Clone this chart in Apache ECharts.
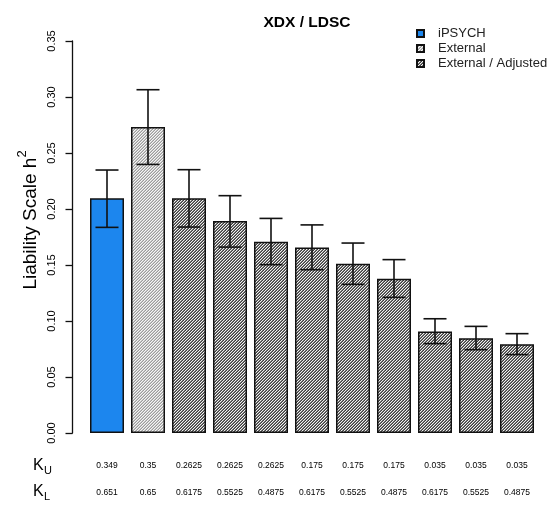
<!DOCTYPE html>
<html>
<head>
<meta charset="utf-8">
<script src="https://cdn.jsdelivr.net/npm/echarts@6/dist/echarts.min.js"></script>
<style>
html,body{margin:0;padding:0;background:#fff;}
#chart{width:548px;height:508px;}
</style>
</head>
<body>
<div id="chart"></div>
<script>
// ---- data ----
var categories = ['1','2','3','4','5','6','7','8','9','10','11'];
var groups = ['iPSYCH','External','External / Adjusted','External / Adjusted','External / Adjusted','External / Adjusted','External / Adjusted','External / Adjusted','External / Adjusted','External / Adjusted','External / Adjusted'];
var h2 = [0.2095, 0.2732, 0.2095, 0.1893, 0.1708, 0.1656, 0.1512, 0.1378, 0.0907, 0.0845, 0.0792];
var errLow = [0.1836, 0.2398, 0.1839, 0.1660, 0.1503, 0.1458, 0.1327, 0.1211, 0.0798, 0.0744, 0.0700];
var errHigh = [0.2348, 0.3065, 0.2351, 0.2119, 0.1916, 0.1858, 0.1696, 0.1548, 0.1020, 0.0952, 0.0887];
var KU = ['0.349','0.35','0.2625','0.2625','0.2625','0.175','0.175','0.175','0.035','0.035','0.035'];
var KL = ['0.651','0.65','0.6175','0.5525','0.4875','0.6175','0.5525','0.4875','0.6175','0.5525','0.4875'];
var yTicks = ['0.00','0.05','0.10','0.15','0.20','0.25','0.30','0.35'];
var seriesNames = ['iPSYCH','External','External / Adjusted'];

// ---- hatch patterns ----
function hatch(cols){
  var n = cols.length;
  var c = document.createElement('canvas');
  c.width = n; c.height = n;
  var ctx = c.getContext('2d');
  for (var x=0;x<n;x++) for (var y=0;y<n;y++){
    ctx.fillStyle = cols[(x+y)%n];
    ctx.fillRect(x,y,1,1);
  }
  return {image: c, repeat: 'repeat'};
}
var patLight = hatch(['#f6f6f6','#c8c8c8','#9c9c9c']);
var patDark = hatch(['#f2f2f2','#7a7a7a','#3e3e3e']);
var fills = {'iPSYCH':'#1C86EE','External':patLight,'External / Adjusted':patDark};

var font = '"Liberation Sans", Arial, Helvetica, sans-serif';

var barSeries = seriesNames.map(function(name){
  return {
    name: name,
    type: 'bar',
    barWidth: 34,
    barGap: '-100%',
    data: h2.map(function(v,i){ return groups[i]===name ? v : '-'; }),
    itemStyle: {color: fills[name], borderColor: '#111', borderWidth: 1.5},
    emphasis: {disabled: true},
    z: 2
  };
});

var errSeries = {
  type: 'custom',
  name: 'err',
  data: categories.map(function(c,i){ return [i, errLow[i], errHigh[i]]; }),
  renderItem: function(params, api){
    var x = api.value(0);
    var lo = api.coord([x, api.value(1)]);
    var hi = api.coord([x, api.value(2)]);
    var hw = 11.5;
    var st = {stroke:'#111', lineWidth:1.6};
    return {type:'group', children:[
      {type:'line', shape:{x1:lo[0], y1:lo[1], x2:hi[0], y2:hi[1]}, style:st},
      {type:'line', shape:{x1:lo[0]-hw, y1:lo[1], x2:lo[0]+hw, y2:lo[1]}, style:st},
      {type:'line', shape:{x1:hi[0]-hw, y1:hi[1], x2:hi[0]+hw, y2:hi[1]}, style:st}
    ]};
  },
  z: 5
};

var chart = echarts.init(document.getElementById('chart'), null, {renderer:'canvas'});
chart.setOption({
  animation: false,
  backgroundColor: '#fff',
  title: {
    text: 'XDX / LDSC', left: 302, top: 10, textAlign: 'center',
    textStyle: {fontFamily: font, fontSize: 15.5, fontWeight: 'bold', color: '#000'}
  },
  legend: {
    orient: 'vertical', left: 416, top: 26, padding: 0,
    itemWidth: 7, itemHeight: 7, itemGap: 0,
    icon: 'rect',
    selectedMode: false,
    data: seriesNames,
    textStyle: {fontFamily: font, fontSize: 13, lineHeight: 15, color: '#222', padding: [0,0,0,9]}
  },
  grid: {left: 86.5, right: 10.5, top: 41, bottom: 75},
  xAxis: [{
    type: 'category', data: categories, position: 'bottom',
    axisLine: {show:false}, axisTick: {show:false},
    axisLabel: {formatter: function(v,i){ return KU[i]; }, margin: 28, fontFamily: font, fontSize: 8.5, color: '#000', interval: 0}
  },{
    type: 'category', data: categories, position: 'bottom', offset: 27,
    axisLine: {show:false}, axisTick: {show:false},
    axisLabel: {formatter: function(v,i){ return KL[i]; }, margin: 28, fontFamily: font, fontSize: 8.5, color: '#000', interval: 0}
  }],
  yAxis: {
    type: 'value', min: 0, max: 0.35, interval: 0.05, offset: 14,
    splitLine: {show:false},
    axisLine: {show:true, lineStyle:{color:'#111', width:1.3}},
    axisTick: {show:true, length: 7, lineStyle:{color:'#111', width:1.3}},
    axisLabel: {
      rotate: 90, margin: 15, fontFamily: font, fontSize: 11, color: '#000',
      formatter: function(v){ var i = Math.round(v/0.05); return yTicks[i]; }
    }
  },
  graphic: [
    {type:'text', x: 28, y: 220, rotation: Math.PI/2,
     style:{text:'{a|Liability Scale h}{b|2}', align:'center', verticalAlign:'middle',
            rich:{a:{fontFamily:font, fontSize:19, color:'#000', lineHeight:24, verticalAlign:'bottom'},
                  b:{fontFamily:font, fontSize:13, color:'#000', lineHeight:24, verticalAlign:'top'}}}},
    {type:'text', x: 33, y: 466, style:{text:'K', fontFamily:font, fontSize:16, fill:'#000', verticalAlign:'middle'}},
    {type:'text', x: 44, y: 471, style:{text:'U', fontFamily:font, fontSize:11, fill:'#000', verticalAlign:'middle'}},
    {type:'text', x: 33, y: 492, style:{text:'K', fontFamily:font, fontSize:16, fill:'#000', verticalAlign:'middle'}},
    {type:'text', x: 44, y: 497, style:{text:'L', fontFamily:font, fontSize:11, fill:'#000', verticalAlign:'middle'}}
  ],
  series: barSeries.concat([errSeries])
});
</script>
</body>
</html>
